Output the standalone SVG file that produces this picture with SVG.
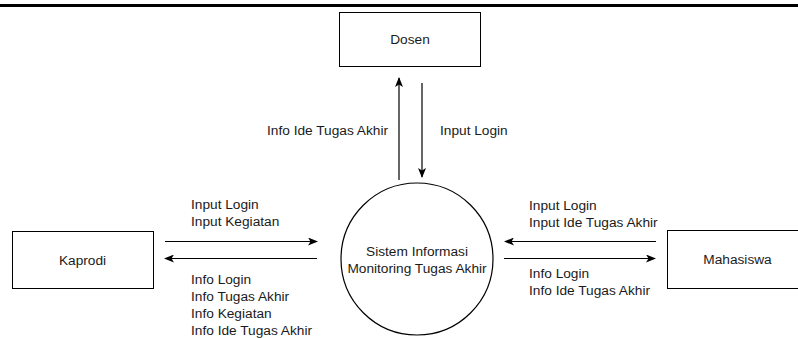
<svg xmlns="http://www.w3.org/2000/svg" width="798" height="338" viewBox="0 0 798 338">
<defs>
<marker id="ah" viewBox="0 0 10 8" refX="9" refY="4" markerWidth="10" markerHeight="8" markerUnits="userSpaceOnUse" orient="auto">
<path d="M0,0 L10,4 L0,8 L2.5,4 Z" fill="#000"/>
</marker>
<style>
text{font-family:"Liberation Sans",Arial,sans-serif;font-size:13.7px;fill:#1a1a1a}
.box{fill:#fff;stroke:#000;stroke-width:1}
.flow{stroke:#000;stroke-width:1.2;fill:none;marker-end:url(#ah)}
.c{text-anchor:middle}
</style>
</defs>
<rect width="798" height="338" fill="#fff"/>
<rect x="0" y="4" width="798" height="3" fill="#000"/>
<g id="dosen">
<rect class="box" x="339.5" y="12.5" width="141" height="54"/>
<text class="c" x="410" y="44">Dosen</text>
</g>
<g id="kaprodi">
<rect class="box" x="12.5" y="231.5" width="141" height="57"/>
<text class="c" x="82.5" y="265">Kaprodi</text>
</g>
<g id="mahasiswa">
<rect class="box" x="667.5" y="230.5" width="141" height="58"/>
<text class="c" x="737.5" y="264">Mahasiswa</text>
</g>
<g id="sistem">
<circle cx="417" cy="259" r="76" fill="#fff" stroke="#000" stroke-width="1.2"/>
<text class="c" x="417" y="256">Sistem Informasi</text>
<text class="c" x="417" y="273">Monitoring Tugas Akhir</text>
</g>
<g id="connectors">
<line class="flow" x1="399" y1="180" x2="399" y2="78"/>
<line class="flow" x1="422" y1="83" x2="422" y2="177"/>
<line class="flow" x1="165" y1="241.5" x2="317" y2="241.5"/>
<line class="flow" x1="317" y1="258.5" x2="165" y2="258.5"/>
<line class="flow" x1="656" y1="241.5" x2="505" y2="241.5"/>
<line class="flow" x1="504" y1="258.5" x2="655" y2="258.5"/>
<text x="267" y="135">Info Ide Tugas Akhir</text>
<text x="440" y="135">Input Login</text>
<text x="191" y="209">Input Login</text>
<text x="191" y="226">Input Kegiatan</text>
<text x="191" y="284">Info Login</text>
<text x="191" y="301">Info Tugas Akhir</text>
<text x="191" y="318">Info Kegiatan</text>
<text x="191" y="335">Info Ide Tugas Akhir</text>
<text x="529" y="210">Input Login</text>
<text x="529" y="227">Input Ide Tugas Akhir</text>
<text x="529" y="278">Info Login</text>
<text x="529" y="295">Info Ide Tugas Akhir</text>
</g>
</svg>
